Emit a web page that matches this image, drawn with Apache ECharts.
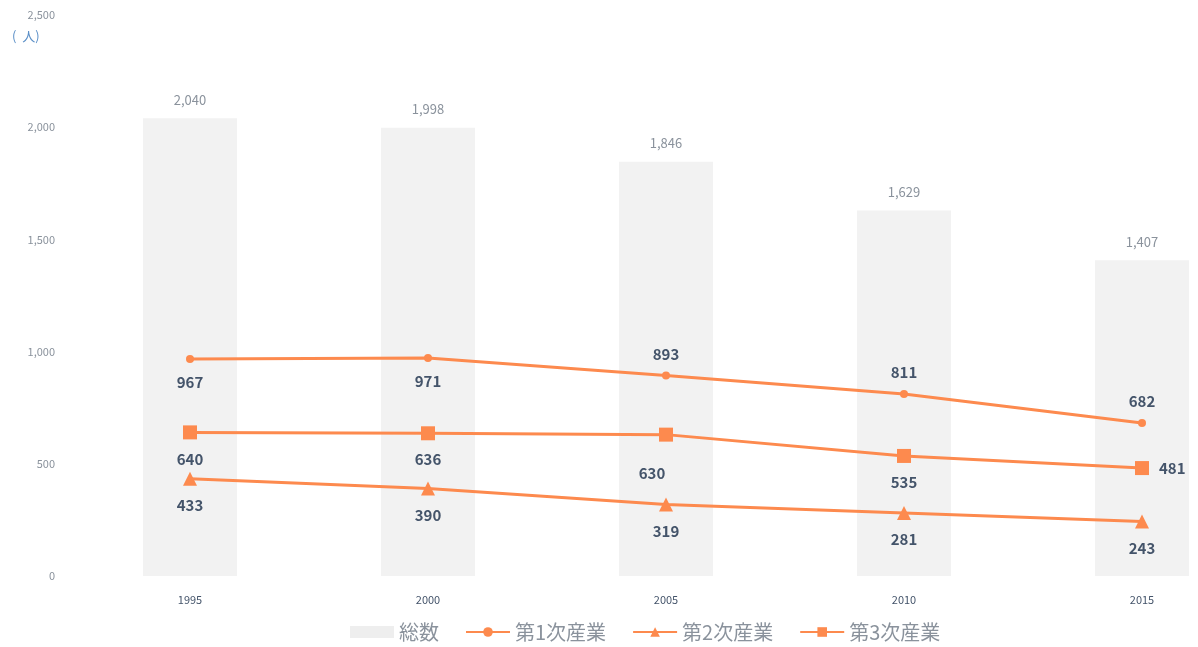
<!DOCTYPE html>
<html>
<head>
<meta charset="utf-8">
<script src="https://cdn.jsdelivr.net/npm/echarts@6/dist/echarts.min.js"></script>
<style>
  html, body { margin: 0; padding: 0; background: #ffffff; }
  #chart { width: 1198px; height: 647px; }
</style>
</head>
<body>
<div id="chart"></div>
<script>
// 年次と就業者数(人)
const years = ['1995', '2000', '2005', '2010', '2015'];
const total = [2040, 1998, 1846, 1629, 1407];
const primary = [967, 971, 893, 811, 682];
const secondary = [433, 390, 319, 281, 243];
const tertiary = [640, 636, 630, 535, 481];
const yTicks = [0, 500, 1000, 1500, 2000, 2500];

const LINE = '#fd8a4e';
const LABEL_DARK = '#44546a';
const LABEL_GRAY = '#8a929c';
const FONT = '"Noto Sans CJK JP", "Noto Sans", sans-serif';

const fmt = v => v.toLocaleString('en-US');

const chart = echarts.init(document.getElementById('chart'));

// per-point label overrides: { index: labelOptions }
function lineSeries(name, values, symbol, size, overrides) {
  return {
    name: name,
    type: 'line',
    data: values.map((v, i) => overrides[i] ? { value: v, label: overrides[i] } : v),
    symbol: symbol,
    symbolSize: size,
    lineStyle: { color: LINE, width: 3 },
    itemStyle: { color: LINE },
    z: 3,
    label: {
      show: true,
      position: 'bottom',
      distance: 12,
      color: LABEL_DARK,
      fontWeight: 'bold',
      fontSize: 15,
      fontFamily: FONT,
      formatter: p => fmt(p.value)
    }
  };
}

chart.setOption({
  animation: false,
  backgroundColor: '#ffffff',
  grid: { left: 190, right: 56, top: 15, bottom: 71 },
  legend: {
    bottom: 0,
    left: 345,
    itemWidth: 44,
    itemHeight: 12,
    itemGap: 26,
    textStyle: { color: LABEL_GRAY, fontSize: 20, fontFamily: FONT },
    data: [
      { name: '総数', icon: 'rect', itemStyle: { color: '#eeeeee' } },
      { name: '第1次産業' },
      { name: '第2次産業' },
      { name: '第3次産業' }
    ]
  },
  xAxis: {
    type: 'category',
    data: years,
    boundaryGap: false,
    axisLine: { show: false },
    axisTick: { show: false },
    axisLabel: {
      color: LABEL_DARK,
      fontSize: 11,
      margin: 18,
      fontFamily: FONT
    }
  },
  yAxis: {
    type: 'value',
    min: 0,
    max: 2500,
    interval: 500,
    axisLine: { show: false },
    axisTick: { show: false },
    splitLine: { show: false },
    axisLabel: {
      color: LABEL_GRAY,
      fontSize: 11,
      margin: 135,
      fontFamily: FONT,
      formatter: v => yTicks.includes(v) ? fmt(v) : ''
    }
  },
  graphic: [{
    type: 'text',
    left: 12,
    top: 30,
    style: { text: '(  人)', fill: '#5b8fc7', fontSize: 13, fontFamily: FONT }
  }],
  series: [
    {
      name: '総数',
      type: 'bar',
      data: total,
      barWidth: 94,
      itemStyle: { color: '#f2f2f2' },
      z: 1,
      label: {
        show: true,
        position: 'top',
        distance: 12,
        color: LABEL_GRAY,
        fontSize: 13,
        fontFamily: FONT,
        formatter: p => fmt(p.value)
      }
    },
    lineSeries('第1次産業', primary, 'circle', 8, {
      2: { position: 'top', distance: 10 },
      3: { position: 'top', distance: 10 },
      4: { position: 'top', distance: 10 }
    }),
    lineSeries('第2次産業', secondary, 'triangle', 14, {}),
    lineSeries('第3次産業', tertiary, 'rect', 14, {
      2: { offset: [-14, 12] },
      4: { position: 'right', distance: 10 }
    })
  ]
});
</script>
</body>
</html>
